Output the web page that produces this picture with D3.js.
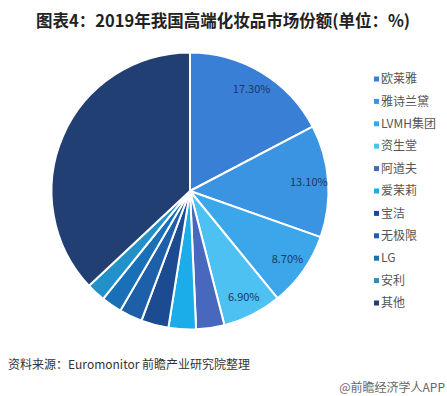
<!DOCTYPE html>
<html><head><meta charset="utf-8">
<script src="https://cdn.jsdelivr.net/npm/d3@7"></script>
<style>
html,body{margin:0;padding:0;background:#fff;}
svg{display:block;}
</style></head>
<body>
<svg id="chart" width="447" height="396"></svg>
<script>
const brands = ["欧莱雅","雅诗兰黛","LVMH集团","资生堂","阿道夫","爱茉莉","宝洁","无极限","LG","安利","其他"];
const shares = [17.3, 13.1, 8.7, 6.9, 3.3, 3.2, 3.2, 2.7, 2.4, 2.2, 37.0];
const labeled = ["欧莱雅","雅诗兰黛","LVMH集团","资生堂"];
const colors = ["#3a7fd6","#3a94e2","#3ba7ea","#4cc1f2","#4768bd","#1badea","#1d4b92","#1d5fa8","#1a70b6","#2391c9","#223f73"];

const svg = d3.select("#chart");
const font = "'Noto Sans CJK SC','Microsoft YaHei',sans-serif";

svg.append("text").attr("x", 223).attr("y", 27).attr("text-anchor","middle")
  .attr("font-family", font).attr("font-weight","bold").attr("font-size", 16.5)
  .attr("fill","#222").text("图表4：2019年我国高端化妆品市场份额(单位：%)");

const cx = 190, cy = 191, r = 138.5;
const color = d3.scaleOrdinal().domain(brands).range(colors);
const pie = d3.pie().sort(null).value(d => d.v);
const data = brands.map((b,i) => ({name:b, v:shares[i]}));
const arcs = pie(data);
const arc = d3.arc().innerRadius(0).outerRadius(r);
const labelArc = d3.arc().innerRadius(r*0.86).outerRadius(r*0.86);

const g = svg.append("g").attr("transform", `translate(${cx},${cy})`);
g.selectAll("path").data(arcs).join("path")
  .attr("d", arc).attr("fill", d => color(d.data.name))
  .attr("stroke", "#fff").attr("stroke-width", 2).attr("stroke-linejoin","round");

const fmt = d3.format(".2f");
g.selectAll("text.lbl").data(arcs.filter(d => labeled.includes(d.data.name))).join("text")
  .attr("class","lbl")
  .attr("transform", d => `translate(${labelArc.centroid(d)})`)
  .attr("text-anchor","middle").attr("dy","0.35em")
  .attr("font-family", font).attr("font-size", 11).attr("fill","#1f3560")
  .text(d => fmt(d.data.v) + "%");

const ly = d3.scalePoint().domain(brands).range([79, 303]);
const lg = svg.append("g");
const items = lg.selectAll("g").data(brands).join("g")
  .attr("transform", d => `translate(374,${ly(d)})`);
items.append("rect").attr("x",0).attr("y",-2.5).attr("width",5).attr("height",5)
  .attr("fill", d => color(d));
items.append("text").attr("x",7).attr("dy","0.35em")
  .attr("font-family", font).attr("font-size", 12).attr("fill","#555").text(d => d);

svg.append("text").attr("x", 8).attr("y", 369)
  .attr("font-family", font).attr("font-size", 12).attr("fill","#333")
  .text("资料来源：Euromonitor 前瞻产业研究院整理");
svg.append("text").attr("x", 445).attr("y", 392).attr("text-anchor","end")
  .attr("font-family", font).attr("font-size", 12).attr("fill","#666")
  .text("@前瞻经济学人APP");
</script>
</body></html>
